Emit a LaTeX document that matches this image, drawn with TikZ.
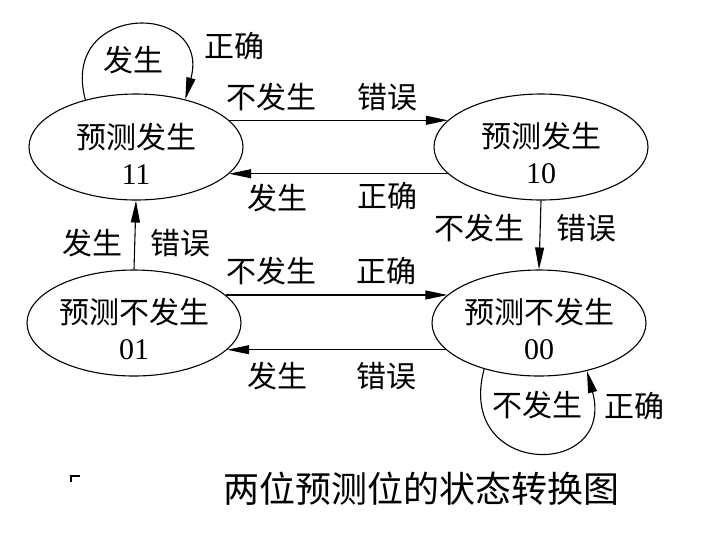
\documentclass[tikz,border=0pt]{standalone}
\usepackage{fontspec}
\setmainfont{Liberation Serif}
\newfontfamily\cjk{Noto Sans CJK SC}
\usetikzlibrary{arrows.meta, shapes.geometric}

% two lines of a state, pushed a little below the centre
\newcommand{\statetext}[2]{\rule{0pt}{38pt}{\cjk #1}\\#2}

\begin{document}
\begin{tikzpicture}[
    x=1pt, y=-1pt,
    state style/.style={
        draw,
        ellipse,
        line width=1.1pt,
        minimum width=214pt,
        minimum height=106pt,
        inner sep=0pt,
        align=center,
        font=\fontsize{30}{36}\selectfont
    },
    label style/.style={
        inner sep=0pt,
        font=\fontsize{30}{36}\selectfont\cjk
    },
    arrow style/.style={
        line width=1.1pt,
        -{Triangle[length=22pt,width=9pt]}
    }
]
\useasboundingbox (0,0) rectangle (714,539);

% States
\node[state style] (s11) at (136,147) {\statetext{预测发生}{11}};
\node[state style] (s10) at (541,147) {\statetext{预测发生}{10}};
\node[state style] (s01) at (134,323) {\statetext{预测不发生}{01}};
\node[state style] (s00) at (539,323) {\statetext{预测不发生}{00}};

% Transitions
\draw[arrow style] (s11.16) -- (s10.164);
\draw[arrow style] (s10.196) -- (s11.344);
\draw[arrow style] (s10.south) -- (s00.north);
\draw[arrow style] (s01.north) -- (s11.south);
\draw[arrow style] (s01.17) -- (s00.163);
\draw[arrow style] (s00.196) -- (s01.344);

% Self loops
\draw[arrow style] (s11.137) to[out=105, in=75, looseness=2.6] (s11.44);
\draw[arrow style] (s00.220) to[out=-105, in=-75, looseness=2.8] (s00.315);

% Labels
\node[label style] (l11a) at (133,60)  {发生};
\node[label style] (l11b) at (234,46)  {正确};
\node[label style] (la)   at (271,97)  {不发生};
\node[label style] (lb)   at (387,97)  {错误};
\node[label style] (lc)   at (277,198) {发生};
\node[label style] (ld)   at (387,196) {正确};
\node[label style] (le)   at (479,228) {不发生};
\node[label style] (lf)   at (586,228) {错误};
\node[label style] (lg)   at (92,243)  {发生};
\node[label style] (lh)   at (180,243) {错误};
\node[label style] (li)   at (271,271) {不发生};
\node[label style] (lj)   at (386,271) {正确};
\node[label style] (lk)   at (277,376) {发生};
\node[label style] (ll)   at (386,376) {错误};
\node[label style] (l00a) at (537,405) {不发生};
\node[label style] (l00b) at (634,406) {正确};

% Caption
\node[inner sep=0pt, font=\fontsize{36}{40}\selectfont\cjk] (cap) at (421,489) {两位预测位的状态转换图};
\draw[line width=1.3pt] (71,482) -- (71,476) -- (80,476);

\end{tikzpicture}
\end{document}
